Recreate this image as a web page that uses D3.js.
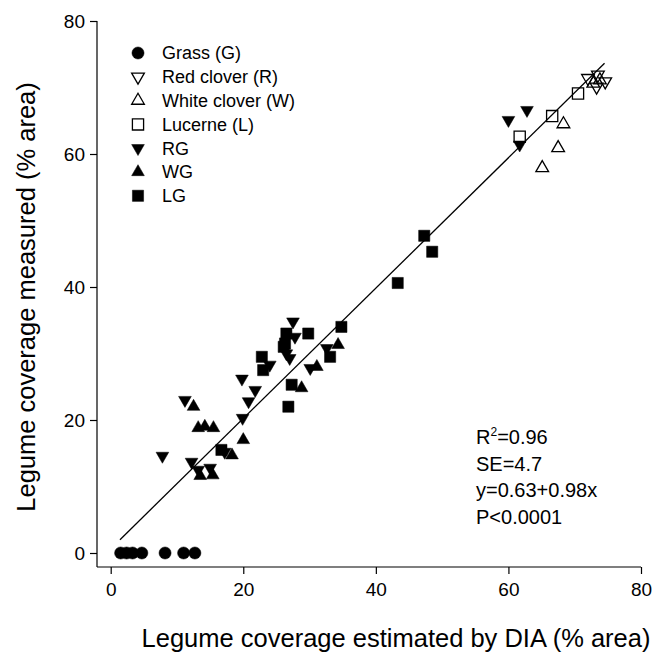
<!DOCTYPE html>
<html>
<head>
<meta charset="utf-8">
<script src="https://cdn.jsdelivr.net/npm/d3@7"></script>
<style>
  body { margin: 0; background: #fff; }
  svg { display: block; font-family: Arial, "Liberation Sans", sans-serif; }
</style>
</head>
<body>
<svg id="chart"></svg>
<script>
// data: [estimated by DIA, measured] (% area)
const grass = [[1.5, 0], [2.4, 0], [3.3, 0], [4.7, 0], [8.2, 0], [11.0, 0], [12.7, 0]];
const redClover = [[72.0, 71.4], [73.5, 71.9], [74.6, 70.9], [73.3, 70.1]];
const whiteClover = [[65.1, 57.9], [67.5, 60.9], [68.3, 64.5], [72.8, 70.6], [73.8, 71.1]];
const lucerne = [[61.7, 62.6], [66.6, 65.7], [70.5, 69.1]];
const rg = [
  [7.8, 14.6], [11.2, 23.0], [12.2, 13.7], [13.2, 12.5], [15.0, 12.8], [17.2, 15.2],
  [19.9, 20.3], [20.8, 22.8], [21.8, 24.5], [19.8, 26.2], [24.0, 28.3], [26.5, 30.0],
  [27.0, 29.3], [27.8, 32.5], [27.5, 34.8], [30.1, 27.8], [32.6, 30.8],
  [60.0, 65.1], [62.8, 66.6], [61.7, 61.4]
];
const wg = [
  [12.5, 22.0], [13.2, 18.8], [14.2, 19.0], [15.5, 18.8], [13.5, 11.6], [15.4, 11.7],
  [18.3, 14.7], [20.0, 17.0], [28.8, 24.8], [31.1, 28.0], [34.3, 31.3]
];
const lg = [
  [16.7, 15.5], [22.8, 29.5], [23.0, 27.5], [26.5, 33.0], [26.3, 31.5], [26.1, 31.0],
  [29.8, 33.0], [26.8, 22.0], [27.3, 25.3], [33.1, 29.5], [34.8, 34.0],
  [43.3, 40.6], [47.3, 47.7], [48.5, 45.3]
];

const fitRange = [1.4, 74.5];
const intercept = 0.63, slope = 0.98;

const ticks = [0, 20, 40, 60, 80];
const statLines = ["R2=0.96", "SE=4.7", "y=0.63+0.98x", "P<0.0001"];

const series = [
  { name: "Grass (G)", data: grass, shape: "circle", filled: true },
  { name: "Red clover (R)", data: redClover, shape: "down", filled: false },
  { name: "White clover (W)", data: whiteClover, shape: "up", filled: false },
  { name: "Lucerne (L)", data: lucerne, shape: "square", filled: false },
  { name: "RG", data: rg, shape: "down", filled: true },
  { name: "WG", data: wg, shape: "up", filled: true },
  { name: "LG", data: lg, shape: "square", filled: true }
];

const W = 654, H = 654;
const svg = d3.select("#chart").attr("width", W).attr("height", H);

const x = d3.scaleLinear().domain([0, 80]).range([110.7, 641]);
const y = d3.scaleLinear().domain([0, 80]).range([553, 21]);
const axisX = 97, axisY = 567;

// axes (offset, sigmaplot style)
const yAxis = svg.append("g")
  .attr("transform", `translate(${axisX},0)`)
  .call(d3.axisLeft(y).tickValues(ticks).tickSize(7).tickPadding(5).tickSizeOuter(0));
yAxis.select(".domain").attr("d", `M0,${y(80)}V${axisY}`);

const xAxis = svg.append("g")
  .attr("transform", `translate(0,${axisY})`)
  .call(d3.axisBottom(x).tickValues(ticks).tickSize(7).tickPadding(9).tickSizeOuter(0));
xAxis.select(".domain").attr("d", `M${axisX},0H${x(80)}`);

svg.selectAll(".tick text").attr("font-size", 19).attr("font-family", "Arial, 'Liberation Sans', sans-serif").attr("fill", "#000");
svg.selectAll(".domain, .tick line").attr("stroke", "#000").attr("stroke-width", 1.2);

// axis titles
svg.append("text")
  .attr("x", 396).attr("y", 647)
  .attr("text-anchor", "middle")
  .attr("font-size", 25.5)
  .text("Legume coverage estimated by DIA (% area)");

svg.append("text")
  .attr("transform", `translate(35,${(y(0) + y(80)) / 2 + 10}) rotate(-90)`)
  .attr("text-anchor", "middle")
  .attr("font-size", 25.5)
  .text("Legume coverage measured (% area)");

// regression line
const line = d3.line().x(d => x(d)).y(d => y(intercept + slope * d));
svg.append("path")
  .datum(fitRange)
  .attr("d", line)
  .attr("fill", "none")
  .attr("stroke", "#000")
  .attr("stroke-width", 1.3);

// markers
const symbolPath = shape => {
  if (shape === "circle") return d3.symbol(d3.symbolCircle, 115)();
  if (shape === "square") return d3.symbol(d3.symbolSquare, 125)();
  return d3.symbol(d3.symbolTriangle, 70)();
};
const drawMarker = (g, s, px, py) => {
  g.append("path")
    .attr("d", symbolPath(s.shape))
    .attr("transform", `translate(${px},${py})` + (s.shape === "down" ? " rotate(180)" : ""))
    .attr("fill", s.filled ? "#000" : "none")
    .attr("stroke", "#000")
    .attr("stroke-width", s.filled ? 0.5 : 1.3);
};

const marks = svg.append("g");
series.forEach(s => {
  s.data.forEach(d => drawMarker(marks, s, x(d[0]), y(d[1])));
});

// legend
const legend = svg.append("g");
series.forEach((s, i) => {
  const ly = 53 + i * 23.8;
  drawMarker(legend, s, 138, ly);
  legend.append("text")
    .attr("x", 162).attr("y", ly)
    .attr("dy", "0.35em")
    .attr("font-size", 18)
    .text(s.name);
});

// statistics
const stats = svg.append("text").attr("font-size", 20);
statLines.forEach((t, i) => {
  const tx = stats.append("tspan").attr("x", 476).attr("y", 444 + i * 26.5);
  if (t.startsWith("R2")) {
    tx.append("tspan").text("R");
    tx.append("tspan").attr("dy", -8).attr("font-size", 12).text("2");
    tx.append("tspan").attr("dy", 8).text(t.slice(2));
  } else {
    tx.text(t);
  }
});
</script>
</body>
</html>
